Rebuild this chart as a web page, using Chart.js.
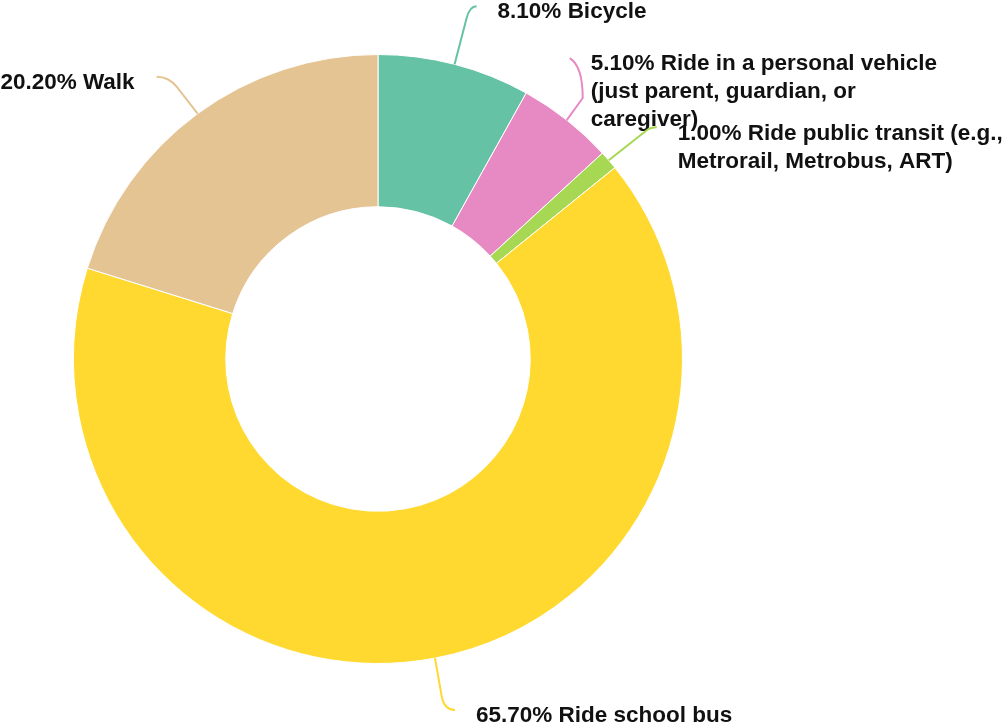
<!DOCTYPE html>
<html>
<head>
<meta charset="utf-8">
<script src="https://cdn.jsdelivr.net/npm/chart.js@4"></script>
<style>
  html, body { margin: 0; padding: 0; background: #fff; }
  #wrap { width: 1005px; height: 725px; }
</style>
</head>
<body>
<div id="wrap"><canvas id="myChart" width="1005" height="725"></canvas></div>
<script>
// datos del grafico
const categories = [
  'Bicycle',
  'Ride in a personal vehicle (just parent, guardian, or caregiver)',
  'Ride public transit (e.g., Metrorail, Metrobus, ART)',
  'Ride school bus',
  'Walk'
];
const shares = [8.1, 5.1, 1.0, 65.7, 20.2];
const colors = ['#66c2a5', '#e78ac3', '#a6d854', '#ffd92f', '#e5c494'];

// forma de las lineas guia (desplazamientos desde el borde del arco)
const leaders = [
  { p1: [12, -46], c: [15, -58], end: [22, -58], side: 'right' },
  { p1: [16, -22], c: [16, -54], end: [3, -62], side: 'right' },
  { p1: [38, -30], c: [42, -33], end: [48, -33], side: 'right' },
  { p1: [7, 40], c: [10, 52], end: [20, 52], side: 'right' },
  { p1: [-21, -27], c: [-29, -37], end: [-41, -37], side: 'left' }
];

function wrapText(ctx, text, maxWidth) {
  const words = text.split(' ');
  const lines = [];
  let line = '';
  words.forEach(function(w) {
    const test = line ? line + ' ' + w : w;
    if (ctx.measureText(test).width > maxWidth && line) {
      lines.push(line);
      line = w;
    } else {
      line = test;
    }
  });
  if (line) lines.push(line);
  return lines;
}

// plugin para dibujar etiquetas con lineas curvas
const leaderLabels = {
  id: 'leaderLabels',
  afterDatasetsDraw(chart) {
    const ctx = chart.ctx;
    const meta = chart.getDatasetMeta(0);
    ctx.save();
    ctx.font = 'bold 22.5px "Liberation Sans", Arial, Helvetica, sans-serif';
    meta.data.forEach(function(arc, i) {
      const p = arc.getProps(['x', 'y', 'startAngle', 'endAngle', 'outerRadius'], true);
      const mid = (p.startAngle + p.endAngle) / 2;
      const ax = p.x + Math.cos(mid) * p.outerRadius;
      const ay = p.y + Math.sin(mid) * p.outerRadius;
      const L = leaders[i];

      ctx.strokeStyle = colors[i];
      ctx.lineWidth = 2;
      ctx.beginPath();
      ctx.moveTo(ax, ay);
      ctx.lineTo(ax + L.p1[0], ay + L.p1[1]);
      ctx.quadraticCurveTo(ax + L.c[0], ay + L.c[1], ax + L.end[0], ay + L.end[1]);
      ctx.stroke();

      const ex = ax + L.end[0];
      const ey = ay + L.end[1];
      const label = shares[i].toFixed(2) + '% ' + categories[i];
      const lines = wrapText(ctx, label, 360);
      ctx.fillStyle = '#111';
      ctx.textBaseline = 'middle';
      ctx.textAlign = L.side === 'left' ? 'right' : 'left';
      const tx = L.side === 'left' ? ex - 22 : ex + 21;
      lines.forEach(function(ln, k) {
        ctx.fillText(ln, tx, ey + 6 + k * 28);
      });
    });
    ctx.restore();
  }
};

let ctx = document.getElementById('myChart').getContext('2d');
const myChart = new Chart(ctx, {
  type: 'doughnut',
  data: {
    labels: categories,
    datasets: [{
      data: shares,
      backgroundColor: colors,
      borderColor: '#ffffff',
      borderWidth: 1
    }]
  },
  options: {
    responsive: false,
    animation: false,
    cutout: '50%',
    layout: {
      padding: { top: 54, bottom: 61, left: 73, right: 322 }
    },
    plugins: {
      legend: { display: false },
      tooltip: { enabled: false }
    }
  },
  plugins: [leaderLabels]
});
</script>
</body>
</html>
